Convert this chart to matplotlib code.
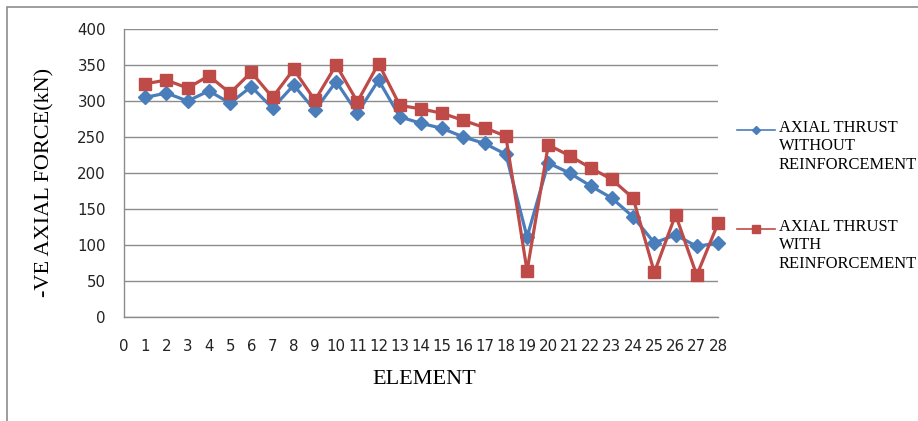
import numpy as np
import matplotlib
matplotlib.use('Agg')
import matplotlib.pyplot as plt
from matplotlib.lines import Line2D
from matplotlib.patches import Rectangle

# Axial thrust per element (kN)
elements = list(range(1, 29))
without_reinf = [305, 311, 300, 314, 297, 320, 290, 322, 287, 327, 283, 329, 278, 269,
                 262, 250, 241, 226, 111, 214, 200, 182, 165, 139, 103, 114, 98, 103]
with_reinf = [324, 329, 318, 335, 311, 340, 305, 344, 301, 350, 299, 352, 294, 289,
              283, 273, 263, 251, 64, 239, 224, 207, 191, 165, 62, 142, 58, 130]
label_without = 'AXIAL THRUST\nWITHOUT\nREINFORCEMENT'
label_with = 'AXIAL THRUST\nWITH\nREINFORCEMENT'

blue = '#4A7EBB'
red = '#BE4B48'
grey = '#8C8C8C'
serif = 'Liberation Serif'

fig = plt.figure(figsize=(9.18, 4.21), dpi=100)
ax = fig.add_axes([124 / 918, 104 / 421, 594 / 918, 288 / 421])

ax.plot(elements, without_reinf, color=blue, lw=2.3, marker='D', ms=7,
        markeredgecolor=blue, zorder=3, clip_on=False)
ax.plot(elements, with_reinf, color=red, lw=2.3, marker='s', ms=8.5,
        markeredgecolor=red, zorder=4, clip_on=False)

ax.set_xlim(0, 28)
ax.set_ylim(0, 400)
ax.set_xticks(range(0, 29))
ax.set_yticks(range(0, 401, 50))
ax.grid(axis='y', color=grey, lw=1)
ax.set_axisbelow(True)
for side in ['top', 'right']:
    ax.spines[side].set_visible(False)
for side in ['left', 'bottom']:
    ax.spines[side].set_color(grey)
    ax.spines[side].set_linewidth(1)
ax.tick_params(axis='both', length=0, labelsize=10.8, colors='#222222')
ax.tick_params(axis='x', pad=16)
ax.tick_params(axis='y', pad=13)

fig.text(45 / 918, 1 - 182 / 421, '-VE AXIAL FORCE(kN)', rotation=90,
         ha='center', va='center', family=serif, fontsize=16)
fig.text(424 / 918, 1 - 380 / 421, 'ELEMENT', ha='center', va='center',
         family=serif, fontsize=16)

# legend drawn by hand so the key sits beside the first text line
entries = [(label_without, blue, 'D', 4.5, 130), (label_with, red, 's', 6, 229)]
for text, col, mk, size, ypx in entries:
    y = 1 - ypx / 421
    fig.add_artist(Line2D([737 / 918, 775 / 918], [y, y], color=col, lw=1.2,
                          transform=fig.transFigure))
    fig.add_artist(Line2D([756 / 918], [y], color=col, marker=mk, ms=size,
                          transform=fig.transFigure))
    fig.text(779 / 918, y + 10 / 421, text, ha='left', va='top', family=serif,
             fontsize=11.9, linespacing=1.2)

# chart border
fig.add_artist(Rectangle((7 / 918, -0.1), 1.0, 1.1 - 7 / 421, fill=False,
                         edgecolor=grey, lw=1.2, transform=fig.transFigure))

fig.savefig('out.png', dpi=100)
